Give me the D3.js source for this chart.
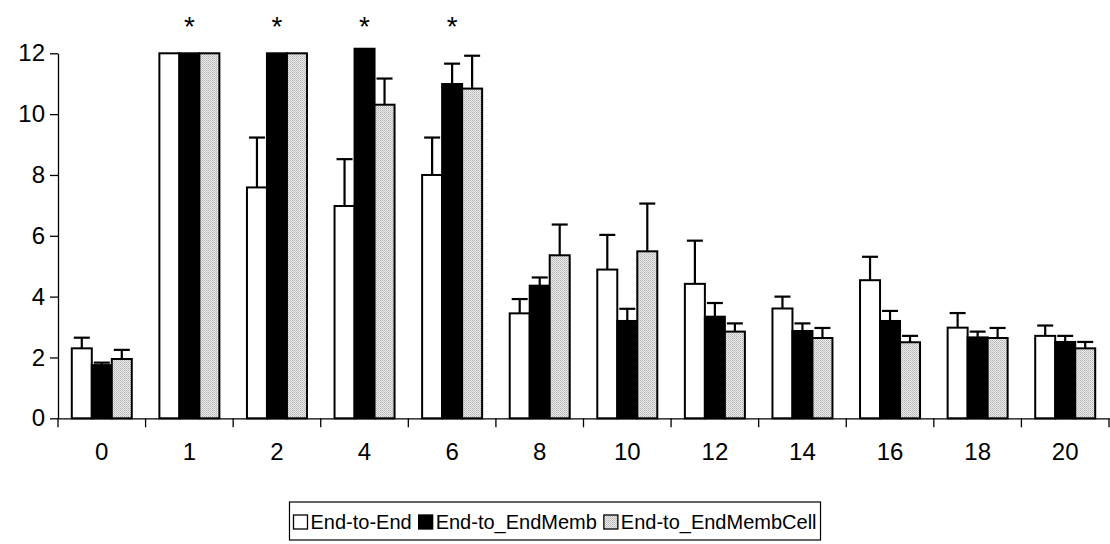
<!DOCTYPE html>
<html><head><meta charset="utf-8">
<script src="https://cdn.jsdelivr.net/npm/d3@7/dist/d3.min.js"></script>
<style>body{margin:0;background:#fff}svg{display:block}text{font-family:"Liberation Sans",Arial,sans-serif}</style>
</head><body><svg id="c" width="1110" height="544"></svg>
<script>
const categories = ["0","1","2","4","6","8","10","12","14","16","18","20"];
const seriesNames = ["End-to-End","End-to_EndMemb","End-to_EndMembCell"];
const endToEnd      = [2.30, 12, 7.59, 6.98, 8.00, 3.45, 4.89, 4.42, 3.61, 4.54, 2.98, 2.71];
const endToEndErr   = [2.65, null, 9.23, 8.52, 9.23, 3.92, 6.03, 5.84, 4.00, 5.31, 3.46, 3.05];
const memb          = [1.75, 12, 12, 12.15, 10.99, 4.36, 3.20, 3.34, 2.87, 3.20, 2.66, 2.51];
const membErr       = [1.83, null, null, null, 11.66, 4.63, 3.60, 3.79, 3.12, 3.53, 2.85, 2.71];
const membCell      = [1.95, 12, 12, 10.31, 10.84, 5.36, 5.49, 2.85, 2.64, 2.50, 2.64, 2.30];
const membCellErr   = [2.25, null, null, 11.17, 11.92, 6.37, 7.06, 3.12, 2.97, 2.71, 2.97, 2.51];
const significant   = ["1","2","4","6"];
const yTicks = [0,2,4,6,8,10,12];

const values = [endToEnd, memb, membCell];
const errs = [endToEndErr, membErr, membCellErr];
const FONT = "Liberation Sans, Arial, sans-serif";

const svg = d3.select("#c");
const defs = svg.append("defs");
const pat = defs.append("pattern").attr("id","dots").attr("width",2).attr("height",2).attr("patternUnits","userSpaceOnUse");
pat.append("rect").attr("width",2).attr("height",2).attr("fill","#ebebeb");
pat.append("rect").attr("width",1).attr("height",1).attr("fill","#b4b4b4");
pat.append("rect").attr("x",1).attr("y",1).attr("width",1).attr("height",1).attr("fill","#c8c8c8");
const fills = ["#ffffff","#000000","url(#dots)"];

const x = d3.scaleBand().domain(categories).range([58,1109]).paddingInner(0).paddingOuter(0);
const xs = d3.scaleBand().domain([0,1,2]).range([0,60]);
const y = d3.scaleLinear().domain([0,12]).range([418.3,53.3]);
const groupOff = (x.bandwidth()-60)/2;

const gy = svg.append("g").attr("transform","translate(58,0)")
  .call(d3.axisLeft(y).tickValues(yTicks).tickSize(8).tickSizeOuter(0).tickPadding(5).tickFormat(d3.format("d")));
gy.select(".domain").attr("stroke","#000").attr("stroke-width",1.3);
gy.selectAll(".tick line").attr("stroke","#000").attr("stroke-width",1.3);
gy.selectAll("text").attr("font-size",24).attr("fill","#000").attr("font-family",FONT);

const gx = svg.append("g").attr("transform","translate(0,418.3)")
  .call(d3.axisBottom(x).tickSize(0).tickSizeOuter(0).tickPadding(25));
gx.select(".domain").attr("stroke","#000").attr("stroke-width",1.3);
gx.selectAll("text").attr("font-size",24).attr("fill","#000").attr("font-family",FONT);
const bounds = categories.map(c=>x(c)).concat([x(categories[categories.length-1])+x.bandwidth()]);
gx.selectAll(".bt").data(bounds).enter().append("line").attr("class","bt")
  .attr("x1",d=>d).attr("x2",d=>d).attr("y1",0).attr("y2",9).attr("stroke","#000").attr("stroke-width",1.3);

const plot = svg.append("g");
categories.forEach((c,i)=>{
  [0,1,2].forEach(s=>{
    const v = values[s][i];
    const bx = x(c)+groupOff+xs(s);
    const bw = xs.bandwidth();
    const e = errs[s][i];
    if(e!=null){
      const cx = bx+bw/2;
      plot.append("line").attr("x1",cx).attr("x2",cx).attr("y1",y(v)).attr("y2",y(e)).attr("stroke","#000").attr("stroke-width",2.2);
      plot.append("line").attr("x1",cx-8).attr("x2",cx+8).attr("y1",y(e)).attr("y2",y(e)).attr("stroke","#000").attr("stroke-width",2.2);
    }
    plot.append("rect").attr("x",bx).attr("y",y(v)).attr("width",bw).attr("height",y(0)-y(v))
      .attr("fill",fills[s]).attr("stroke","#000").attr("stroke-width",2);
  });
});
svg.append("g").selectAll("text").data(significant).enter().append("text")
  .attr("x",d=>x(d)+x.bandwidth()/2).attr("y",36).attr("text-anchor","middle")
  .attr("font-size",28).attr("font-family",FONT).text("*");

// legend
const lg = svg.append("g");
const items = [];
let cx = 0;
const fs = 20, sq = 14;
seriesNames.forEach((n,i)=>{
  const t = lg.append("text").attr("font-size",fs).attr("font-family",FONT).text(n);
  const w = t.node().getComputedTextLength();
  items.push({n,w,t,x0:cx});
  cx += sq + 3 + w + 7;
});
const totalW = cx - 7;
const lx = 555 - totalW/2;
const ly = 521;
lg.insert("rect",":first-child").attr("x",lx-4).attr("y",502).attr("width",totalW+8).attr("height",38)
  .attr("fill","#fff").attr("stroke","#000").attr("stroke-width",1.2);
items.forEach((it,i)=>{
  lg.append("rect").attr("x",lx+it.x0).attr("y",ly-sq/2+1).attr("width",sq).attr("height",sq)
    .attr("fill",fills[i]).attr("stroke","#000").attr("stroke-width",1.3);
  it.t.attr("x",lx+it.x0+sq+3).attr("y",ly+8);
});
</script></body></html>
